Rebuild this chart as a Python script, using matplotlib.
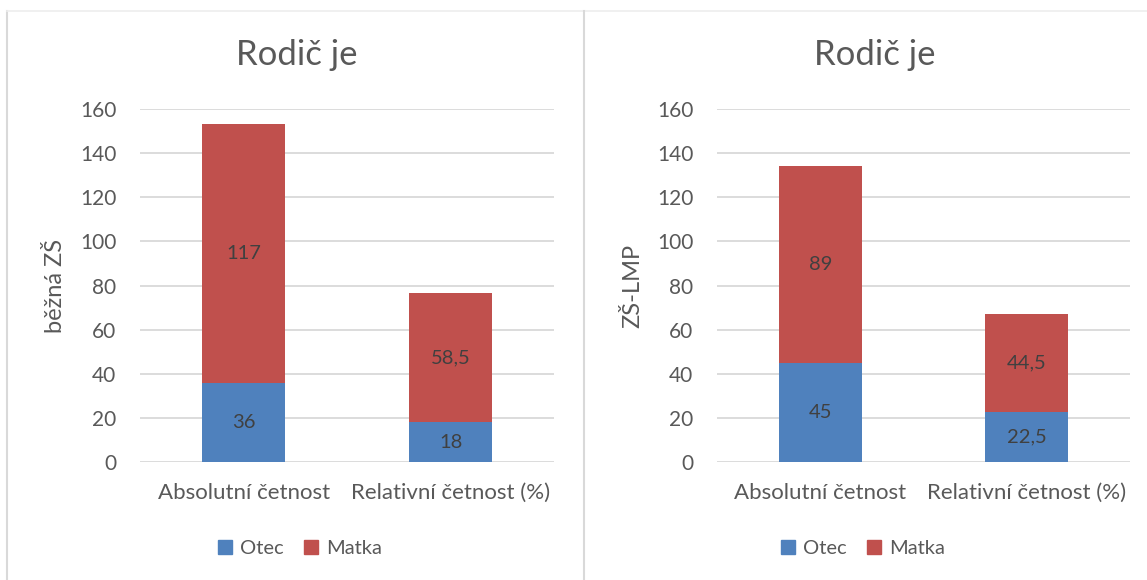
import numpy as np
import matplotlib.pyplot as plt
from matplotlib.lines import Line2D

plt.rcParams['font.family'] = ['Lato', 'DejaVu Sans']

# data
kategorie = ["Absolutní četnost", "Relativní četnost (%)"]
otec_bezna = [36, 18]
matka_bezna = [117, 58.5]
otec_lmp = [45, 22.5]
matka_lmp = [89, 44.5]
ylabels = ["běžná ZŠ", "ZŠ-LMP"]

modra = "#4F81BD"
cervena = "#C0504D"
seda_text = "#595959"
mriz = "#D9D9D9"

fig = plt.figure(figsize=(11.47, 5.8), dpi=100)

def fmt(v):
    s = ("%g" % v).replace(".", ",")
    return s

def panel(rect, otec, matka, ylab, cx):
    ax = fig.add_axes(rect)
    x = np.arange(len(kategorie))
    ax.bar(x, otec, width=0.4, color=modra, zorder=3)
    ax.bar(x, matka, width=0.4, bottom=otec, color=cervena, zorder=3)
    for i in range(len(x)):
        ax.text(x[i], otec[i] / 2, fmt(otec[i]), ha="center", va="center",
                fontsize=14.5, color="#404040", zorder=4)
        ax.text(x[i], otec[i] + matka[i] / 2, fmt(matka[i]), ha="center", va="center",
                fontsize=14.5, color="#404040", zorder=4)
    ax.set_xlim(-0.5, 1.5)
    ax.set_ylim(0, 160)
    ax.set_yticks(np.arange(0, 161, 20))
    ax.set_xticks(x)
    ax.set_xticklabels(kategorie)
    ax.grid(axis="y", color=mriz, linewidth=1.3, zorder=0)
    for s in ax.spines.values():
        s.set_visible(False)
    ax.tick_params(axis="both", length=0, colors=seda_text)
    ax.tick_params(axis="x", pad=15, labelsize=16)
    ax.tick_params(axis="y", pad=17, labelsize=15)
    ax.set_ylabel(ylab, fontsize=17, color=seda_text, labelpad=10)
    fig.text(cx, 0.905, "Rodič je", ha="center", va="center", fontsize=25, color=seda_text)
    h = [plt.Rectangle((0, 0), 1, 1, color=modra), plt.Rectangle((0, 0), 1, 1, color=cervena)]
    fig.legend(h, ["Otec", "Matka"], loc="center", bbox_to_anchor=(cx, 0.055), ncol=2,
               frameon=False, fontsize=14.5, handlelength=0.7, handleheight=0.7,
               handletextpad=0.4, columnspacing=1.0, labelcolor=seda_text)
    return ax

ax1 = panel([0.1221, 0.2034, 0.361, 0.6086], otec_bezna, matka_bezna, ylabels[0], 0.259)
ax2 = panel([0.6251, 0.2034, 0.360, 0.6086], otec_lmp, matka_lmp, ylabels[1], 0.763)

# legendy trochu posunout
fig.legends[0].set_bbox_to_anchor((0.2616, 0.055), transform=fig.transFigure)
fig.legends[1].set_bbox_to_anchor((0.7524, 0.055), transform=fig.transFigure)

# ramecky grafu
fig.add_artist(Line2D([7 / 1147, 7 / 1147], [0, 1 - 11 / 580], color=mriz, lw=1.5))
fig.add_artist(Line2D([7 / 1147, 1], [1 - 11 / 580, 1 - 11 / 580], color="#EEEEEE", lw=1.2))
fig.add_artist(Line2D([584 / 1147, 584 / 1147], [0, 1 - 11 / 580], color=mriz, lw=1.5))

fig.savefig("out.png", dpi=100, facecolor="white")
